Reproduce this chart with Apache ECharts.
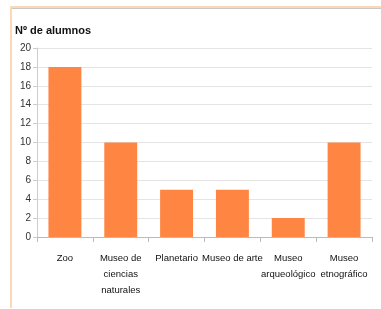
<!DOCTYPE html>
<html>
<head>
<meta charset="utf-8">
<script src="https://cdn.jsdelivr.net/npm/echarts@6/dist/echarts.min.js"></script>
<style>
  html, body { margin: 0; padding: 0; background: #fff; }
  #chart { width: 381px; height: 309px; }
</style>
</head>
<body>
<div id="chart"></div>
<script>
const categories = ['Zoo', 'Museo de\nciencias\nnaturales', 'Planetario', 'Museo de arte', 'Museo\narqueológico', 'Museo\netnográfico'];
const alumnos = [18, 10, 5, 5, 2, 10];
const yTicks = { min: 0, max: 20, interval: 2 };

const font = "'Liberation Sans', Arial, sans-serif";

const myChart = echarts.init(document.getElementById('chart'));
myChart.setOption({
    animation: false,
    title: {
        text: 'Nº de alumnos',
        left: 11, top: 20,
        padding: [5, 4],
        textStyle: { fontFamily: font, fontSize: 11, fontWeight: 'bold', color: '#111' }
    },
    graphic: [
        { type: 'rect', shape: { x: 10, y: 6, width: 371, height: 2 }, style: { fill: '#fcd8b4' } },
        { type: 'rect', shape: { x: 12, y: 8, width: 369, height: 1 }, style: { fill: '#c8c8c8' } },
        { type: 'rect', shape: { x: 10, y: 6, width: 2, height: 302 }, style: { fill: '#fcd8b4' } }
    ],
    grid: { left: 37, right: 9, top: 48, bottom: 72 },
    xAxis: {
        type: 'category',
        data: categories,
        axisLine: { lineStyle: { color: '#bbb' } },
        axisTick: { show: true, length: 5, lineStyle: { color: '#bbb' } },
        axisLabel: { interval: 0, margin: 13, fontFamily: font, fontSize: 9.5, lineHeight: 16, color: '#111' }
    },
    yAxis: {
        type: 'value',
        min: yTicks.min, max: yTicks.max, interval: yTicks.interval,
        axisLine: { show: true, lineStyle: { color: '#ccc' } },
        axisTick: { show: true, length: 4, lineStyle: { color: '#ccc' } },
        axisLabel: { margin: 6, fontFamily: font, fontSize: 10, color: '#333' },
        splitLine: { lineStyle: { color: '#e4e4e4' } }
    },
    series: [{
        type: 'bar',
        data: alumnos,
        barWidth: '59%',
        itemStyle: { color: '#ff8543' }
    }]
});
</script>
</body>
</html>
